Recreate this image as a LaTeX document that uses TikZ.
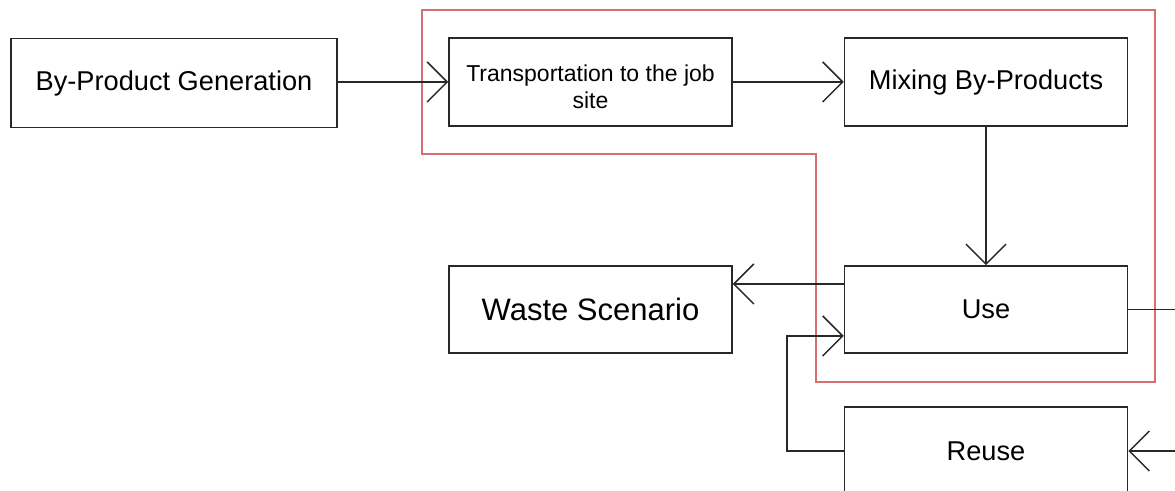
\documentclass[tikz,border=0pt]{standalone}
\usepackage{fontspec}
\setmainfont{Liberation Sans}
\usetikzlibrary{arrows.meta}
\definecolor{framered}{RGB}{214,112,112}
\definecolor{ink}{RGB}{40,40,40}
\begin{document}
\begin{tikzpicture}[x=0.5pt,y=-0.5pt,
  box/.style={draw=ink, line width=0.75pt, rectangle, inner sep=0pt,
    align=center, text=black, minimum width=283*0.5pt, minimum height=88*0.5pt,
    font=\fontsize{13.6}{16}\selectfont},
  flow/.style={draw=ink, line width=0.75pt,
    -{Straight Barb[length=10pt,width=20pt,line width=0.75pt]}},
]
\useasboundingbox (0,0) rectangle (1175,491);
\clip (0,0) rectangle (1175,491);

% red frame around the on-site stages
\draw[framered, line width=0.75pt]
  (422,10) -- (1155,10) -- (1155,382) -- (816,382) -- (816,154) -- (422,154) -- cycle;

% process stages
\node[box, minimum width=326*0.5pt, minimum height=89*0.5pt, yshift=-0.5pt] (gen) at (174,82) {By-Product Generation};
\node[box] (trans) at (590.5,82) {};
\node[align=center, inner sep=0pt, font=\fontsize{11.5}{13.5}\selectfont]
  (translabel) at ([yshift=-2.5pt]trans.center) {Transportation to the job\\site};
\node[box] (mix) at (986,82) {Mixing By-Products};
\node[box, minimum height=87*0.5pt] (use) at (986,309.5) {Use};
\node[box, minimum height=87*0.5pt, font=\fontsize{15.5}{18}\selectfont] (waste) at (590.5,309.5) {Waste Scenario};
\node[box] (reuse) at (986,451) {Reuse};

% flows between stages
\draw[flow] (gen.east |- trans.west) -- (trans.west);
\draw[flow] (trans) -- (mix);
\draw[flow] (mix) -- (use);
\draw[flow] ([yshift=12.75pt]use.west) -- ([yshift=12.75pt]waste.east);
\draw[flow] (reuse.west) -- ++(-57,0) |- ([yshift=-13.25pt]use.west);
\draw[flow] (use.east) -- ++(70,0) |- (reuse.east);
\end{tikzpicture}
\end{document}
